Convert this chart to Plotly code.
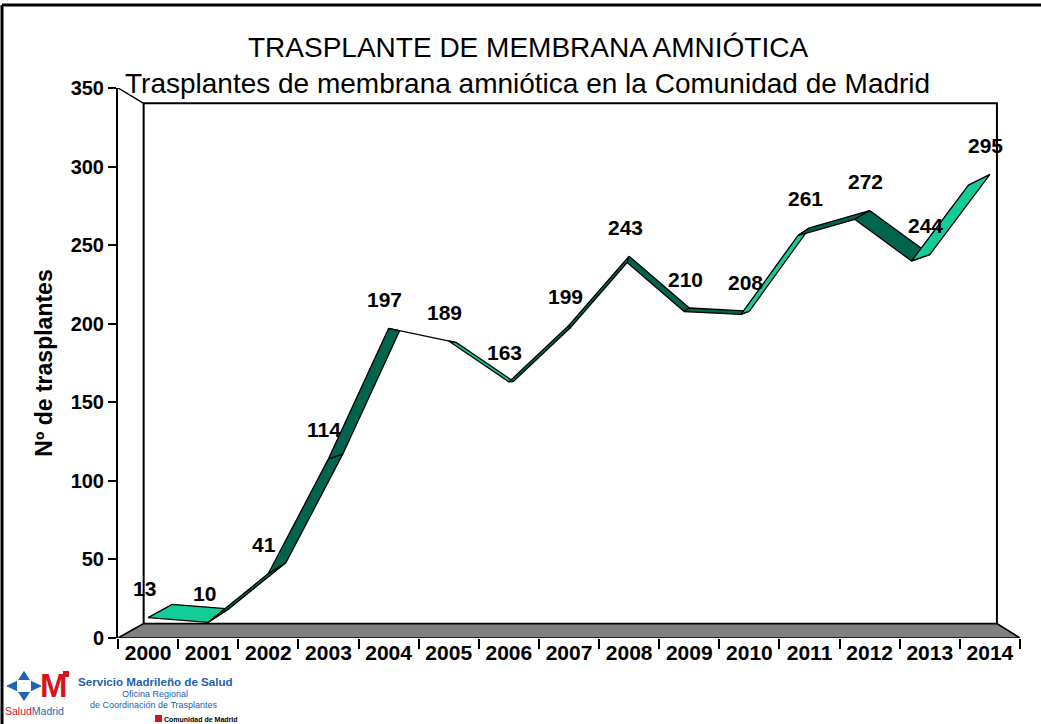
import plotly.graph_objects as go

# ---- data -------------------------------------------------------------
years = [str(y) for y in range(2000, 2015)]
trasplantes = [13, 10, 41, 114, 197, 189, 163, 199, 243, 210, 208, 261, 272, 244, 295]
y_ticks = [0, 50, 100, 150, 200, 250, 300, 350]

TITLE = "TRASPLANTE DE MEMBRANA AMNIÓTICA"
SUBTITLE = "Trasplantes de membrana amniótica en la Comunidad de Madrid"
Y_TITLE = "Nº de trasplantes"

# ---- geometry / style -------------------------------------------------
W, H = 1041, 724
ML, MR, MT, MB = 118, 21, 88, 86
PW, PH = W - ML - MR, H - MT - MB
YMAX = 350
X0, X1 = -0.5, len(years) - 0.5

# back plane = front plane shrunk toward a vanishing point (perspective)
DEPTH_SCALE = 0.946
VAN_X = 7.4
VAN_Y = 169

LIGHT = "#14CC98"
DARK = "#00654C"
BLUE = "#1E63B4"
RED = "#D7141E"
FONT = "Arial, Liberation Sans, sans-serif"


def to_back(x, y):
    return VAN_X + DEPTH_SCALE * (x - VAN_X), VAN_Y + DEPTH_SCALE * (y - VAN_Y)


def px(xp, yp):
    """pixel position -> paper coordinates"""
    return (xp - ML) / PW, (H - MB - yp) / PH


fig = go.Figure()

# floor
bx0, by0 = to_back(X0, 0)
bx1, _ = to_back(X1, 0)
fig.add_trace(go.Scatter(
    x=[X0, X1, bx1, bx0, X0], y=[0, 0, by0, by0, 0],
    mode="lines", fill="toself", fillcolor="#808080",
    line=dict(color="black", width=1.6), hoverinfo="skip", cliponaxis=False))

# back wall and left side wall edges
_, byt = to_back(X0, YMAX)
fig.add_trace(go.Scatter(
    x=[bx0, bx0, bx1, bx1], y=[by0, byt, byt, by0],
    mode="lines", line=dict(color="black", width=2), hoverinfo="skip", cliponaxis=False))
fig.add_trace(go.Scatter(
    x=[X0, bx0], y=[YMAX, byt],
    mode="lines", line=dict(color="black", width=1.5), hoverinfo="skip", cliponaxis=False))

# ribbon: one quad per segment, shaded by which face points at the viewer
for i in range(len(trasplantes) - 1):
    xa, ya = i, trasplantes[i]
    xb, yb = i + 1, trasplantes[i + 1]
    bxa, bya = to_back(xa, ya)
    bxb, byb = to_back(xb, yb)
    qx = [xa, xb, bxb, bxa]
    qy = [ya, yb, byb, bya]
    area = sum(qx[j] * qy[(j + 1) % 4] - qx[(j + 1) % 4] * qy[j] for j in range(4))
    color = LIGHT if area > 0 else DARK
    fig.add_trace(go.Scatter(
        x=qx + [xa], y=qy + [ya], mode="lines", fill="toself", fillcolor=color,
        line=dict(color="black", width=1.3), hoverinfo="skip", cliponaxis=False))

# value labels
for i, v in enumerate(trasplantes):
    fig.add_annotation(x=i, y=v, text=str(v), showarrow=False, xshift=-4, yshift=29,
                       font=dict(family=FONT, size=21, color="black", weight="bold"))


def txt(xp, yp, text, size, color, bold=False):
    ax, ay = px(xp, yp)
    fig.add_annotation(xref="paper", yref="paper", x=ax, y=ay, text=text, showarrow=False,
                       xanchor="center", yanchor="middle",
                       font=dict(family=FONT, size=size, color=color,
                                 weight="bold" if bold else "normal"))


# titles
txt(528, 48, TITLE, 28, "black")
txt(527, 83, SUBTITLE, 28, "black")

# logo block: emblem, "M", and the office names
cx, cy, ro, ri = 24, 686, 17, 6
pts = []
for k in range(8):
    r = ro if k % 2 == 0 else ri
    dx = [1, 0, -1, 0][k // 2 % 4] if k % 2 == 0 else [1, -1, -1, 1][k // 2 % 4]
    dy = [0, -1, 0, 1][k // 2 % 4] if k % 2 == 0 else [-1, -1, 1, 1][k // 2 % 4]
    pts.append(px(cx + r * dx, cy + r * dy * 0.85))
path = "M " + " L ".join(f"{p[0]:.5f},{p[1]:.5f}" for p in pts) + " Z"
fig.add_shape(type="path", xref="paper", yref="paper", path=path,
              fillcolor=BLUE, line=dict(color=BLUE, width=1))
bx_, by_ = px(cx, cy)
bw, bh = 7 / PW, 6 / PH
fig.add_shape(type="rect", xref="paper", yref="paper", x0=bx_ - bw, y0=by_ - bh,
              x1=bx_ + bw, y1=by_ + bh, fillcolor="white", line=dict(width=0))

txt(54, 685, "M", 33, RED, bold=True)
txt(34, 711, "<span style='color:#D7141E'>Salud</span>Madrid", 10.5, BLUE)
txt(155, 681, "Servicio Madrileño de Salud", 11.6, "#1E5FAE", bold=True)
txt(155, 694, "Oficina Regional", 9, "#1E5FAE")
txt(154, 705, "de Coordinación de Trasplantes", 9, "#1E5FAE")
txt(201, 719, "Comunidad de Madrid", 7, "black", bold=True)

# frame lines and small emblem squares
fx0, fy0 = px(2, 5)
fx1, fy1 = px(W, H)
fig.add_shape(type="line", xref="paper", yref="paper", x0=fx0, y0=fy0, x1=fx1, y1=fy0,
              line=dict(color="black", width=3))
fig.add_shape(type="line", xref="paper", yref="paper", x0=fx0, y0=fy0, x1=fx0, y1=fy1,
              line=dict(color="black", width=3))
ex0, ey0 = px(155, 715)
ex1, ey1 = px(162, 722)
fig.add_shape(type="rect", xref="paper", yref="paper", x0=ex0, y0=ey0, x1=ex1, y1=ey1,
              line=dict(width=0), fillcolor=RED)
mx0, my0 = px(63, 671)
mx1, my1 = px(69, 677)
fig.add_shape(type="rect", xref="paper", yref="paper", x0=mx0, y0=my0, x1=mx1, y1=my1,
              line=dict(width=0), fillcolor=RED)

fig.update_layout(
    width=W, height=H, autosize=False,
    margin=dict(l=ML, r=MR, t=MT, b=MB),
    paper_bgcolor="white", plot_bgcolor="white",
    showlegend=False,
    font=dict(family=FONT, color="black"),
    xaxis=dict(
        range=[X0, X1], showgrid=False, zeroline=False, showline=False,
        tickmode="array", tickvals=list(range(len(years))), ticktext=years, ticks="",
        tickfont=dict(size=21, weight="bold"),
        minor=dict(tickmode="array", tickvals=[X0 + k for k in range(len(years) + 1)],
                   ticks="outside", ticklen=10, tickwidth=1.5, tickcolor="black"),
    ),
    yaxis=dict(
        range=[0, YMAX], showgrid=False, zeroline=False,
        showline=True, linecolor="black", linewidth=2,
        tickmode="array", tickvals=y_ticks, ticks="outside", ticklen=8,
        tickwidth=1.5, tickcolor="black",
        tickfont=dict(size=20, weight="bold"),
        title=dict(text=Y_TITLE, font=dict(size=23, weight="bold"), standoff=12),
    ),
)

fig.write_html("out.html")
